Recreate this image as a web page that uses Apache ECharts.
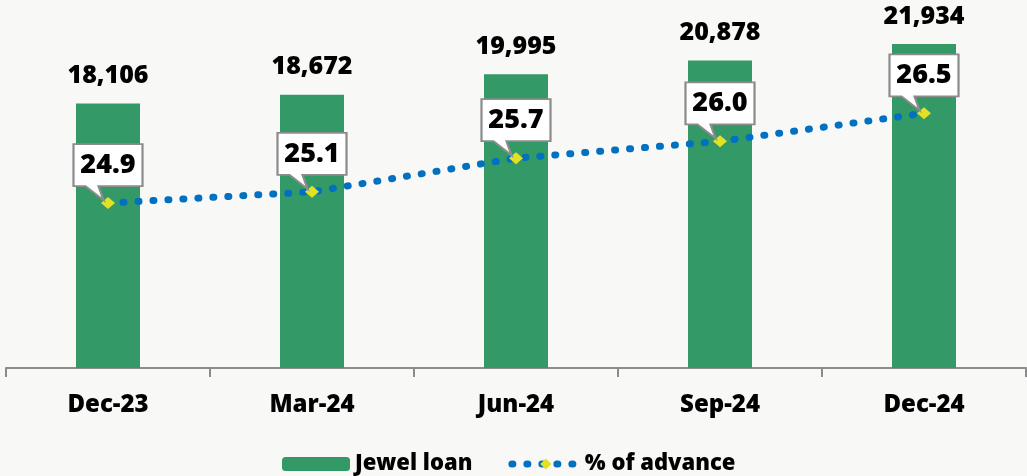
<!DOCTYPE html>
<html>
<head>
<meta charset="utf-8">
<title>Jewel loan</title>
<script src="https://cdn.jsdelivr.net/npm/echarts@6/dist/echarts.min.js"></script>
<style>
  html, body { margin: 0; padding: 0; background: #f8f8f6; }
  #chart { width: 1027px; height: 476px; }
</style>
</head>
<body>
<div id="chart"></div>
<script>
// data
const quarters = ['Dec-23', 'Mar-24', 'Jun-24', 'Sep-24', 'Dec-24']
const jewelLoan = [18106, 18672, 19995, 20878, 21934]
const advancePct = [24.9, 25.1, 25.7, 26.0, 26.5]

const font = '"Open Sans", "Liberation Sans", sans-serif'
const heavy = 800
// callout box with a tail pointing down at the data point
const calloutPath = 'path://M0,0 L69,0 L69,42 L25,42 L30,56 L12,42 L0,42 Z'
const dotted = { color: '#0070c0', width: 7, type: [1, 14], cap: 'round' }

const chart = echarts.init(document.getElementById('chart'))

chart.setOption({
  backgroundColor: '#f8f8f6',
  textStyle: { fontFamily: font },
  animation: false,
  grid: { left: 6, right: 1, top: 0, bottom: 108 },
  legend: {
    left: 277,
    top: 448,
    itemWidth: 68,
    itemHeight: 14,
    itemGap: 36,
    textStyle: { fontFamily: font, fontSize: 22, fontWeight: heavy, color: '#000' },
    data: [
      { name: 'Jewel loan' },
      { name: '% of advance', lineStyle: dotted }
    ]
  },
  xAxis: {
    type: 'category',
    data: quarters,
    axisLine: { lineStyle: { color: '#8c8c8c', width: 2 } },
    axisTick: { show: true, alignWithLabel: false, length: 9, lineStyle: { color: '#8c8c8c', width: 2 } },
    axisLabel: { margin: 25, fontFamily: font, fontSize: 24, fontWeight: heavy, color: '#000' }
  },
  yAxis: [
    { type: 'value', min: 1150, max: 24750, show: false, splitLine: { show: false } },
    { type: 'value', min: 21.96, max: 28.52, show: false, splitLine: { show: false } }
  ],
  series: [
    {
      name: 'Jewel loan',
      type: 'bar',
      data: jewelLoan,
      barWidth: 64,
      itemStyle: { color: '#339966' },
      label: {
        show: true,
        position: 'top',
        distance: 15,
        fontFamily: font,
        fontSize: 25,
        fontWeight: heavy,
        color: '#000',
        formatter: p => p.value.toLocaleString('en-US')
      }
    },
    {
      name: '% of advance',
      type: 'line',
      yAxisIndex: 1,
      data: advancePct,
      symbol: 'diamond',
      symbolSize: [14, 12],
      itemStyle: { color: '#e2e222' },
      lineStyle: dotted,
      z: 3,
      markPoint: {
        symbol: calloutPath,
        symbolSize: [69, 56],
        symbolOffset: [0, -31],
        itemStyle: { color: '#ffffff', borderColor: '#8c8c8c', borderWidth: 2 },
        label: {
          show: true,
          position: 'inside',
          offset: [0, -7],
          fontFamily: font,
          fontSize: 27,
          fontWeight: heavy,
          color: '#000',
          formatter: p => p.value.toFixed(1)
        },
        data: advancePct.map((v, i) => ({ coord: [quarters[i], v], value: v }))
      }
    }
  ]
})
</script>
</body>
</html>
